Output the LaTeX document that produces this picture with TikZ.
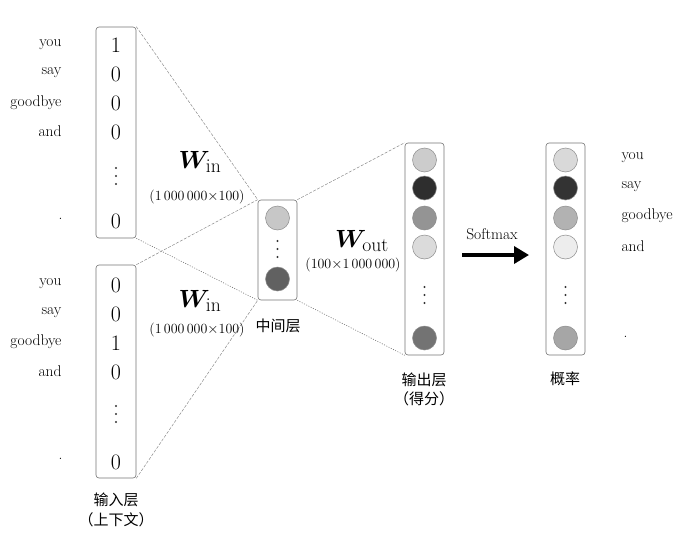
\documentclass[tikz,border=0pt]{standalone}
\usepackage{fontspec}
\usepackage{amsmath,bm}
\newfontfamily\cjk{Noto Sans CJK SC}
\usetikzlibrary{arrows.meta}
\begin{document}
\begin{tikzpicture}[x=1pt,y=-1pt,
  col/.style={draw=black!55,line width=0.6pt,rounded corners=3pt,minimum width=40pt,inner sep=0pt},
  dig/.style={font=\fontsize{22}{24}\selectfont},
  wl/.style={font=\fontsize{15.5}{17}\selectfont,anchor=east},
  wr/.style={font=\fontsize{15.5}{17}\selectfont,anchor=west},
  neur/.style={circle,draw=black!45,line width=0.5pt,minimum size=24pt,inner sep=0pt},
  vd/.style={inner sep=0pt,minimum size=0pt},
  dotc/.style={fill=black!80},
  cn/.style={font=\cjk\fontsize{15}{18}\selectfont},
  conn/.style={draw=black!45,line width=0.5pt,dash pattern=on 3pt off 1.5pt},
  connd/.style={draw=black!55,line width=0.6pt,dash pattern=on 1pt off 1.5pt},
  wbig/.style={font=\fontsize{28}{30}\selectfont},
  dims/.style={font=\fontsize{14}{16}\selectfont}
]
\useasboundingbox (0,0) rectangle (682,538);
% input boxes
\node[col,minimum height=211pt] (inA) at (116,132.5) {};
\node[col,minimum height=213pt] (inB) at (116,371.5) {};
% middle
\node[col,minimum width=39pt,minimum height=100pt] (mid) at (277.5,250) {};
% output
\node[col,minimum width=39pt,minimum height=212pt] (out) at (424.5,249) {};
\node[col,minimum width=39pt,minimum height=212pt] (prob) at (565.5,249) {};

% connectors
\draw[conn] (inA.north east) -- (mid.north west);
\draw[connd] (inA.south east) -- (mid.south west);
\draw[conn] (inB.north east) -- (mid.north west);
\draw[conn] (inB.south east) -- (mid.south west);
\draw[conn] (mid.north east) -- (out.north west);
\draw[connd] (mid.south east) -- (out.south west);

% input A digits
\node[dig] (a1) at (116,45) {1};
\node[dig] (a2) at (116,74) {0};
\node[dig] (a3) at (116,103) {0};
\node[dig] (a4) at (116,132) {0};
\node[vd] (a5) at (116,176) {};
\node[dig] (a6) at (116,221) {0};
\node[wl] (la1) at (65,45) {you};
\node[wl] (la2) at (65,73) {say};
\node[wl] (la3) at (65,103) {goodbye};
\node[wl] (la4) at (65,131) {and};
\node[wl] (la5) at (66,219) {.};
% input B digits
\node[dig] (b1) at (116,285) {0};
\node[dig] (b2) at (116,314) {0};
\node[dig] (b3) at (116,343) {1};
\node[dig] (b4) at (116,372) {0};
\node[vd] (b5) at (116,414) {};
\node[dig] (b6) at (116,462) {0};
\node[wl] (lb1) at (65,284) {you};
\node[wl] (lb2) at (65,313) {say};
\node[wl] (lb3) at (65,342) {goodbye};
\node[wl] (lb4) at (65,371) {and};
\node[wl] (lb5) at (66,459) {.};
\node[cn] (inlab) at (116,500) {输入层};
\node[cn] (inlab2) at (116,520) {（上下文）};

% middle neurons
\node[neur,fill=black!22] (m1) at (277.5,218) {};
\node[vd] (m2) at (277.5,249) {};
\node[neur,fill=black!62] (m3) at (277.5,279) {};
\node[cn] (midlab) at (278,326) {中间层};

% weights labels
\node[wbig] (w1) at (200,162) {$\bm{W}_{\mathrm{in}}$};
\node[dims] (d1) at (197,197) {(1\,000\,000$\times$100)};
\node[wbig] (w2) at (200,301) {$\bm{W}_{\mathrm{in}}$};
\node[dims] (d2) at (197,330) {(1\,000\,000$\times$100)};
\node[wbig] (w3) at (362,241) {$\bm{W}_{\mathrm{out}}$};
\node[dims] (d3) at (353,265) {(100$\times$1\,000\,000)};

% output neurons
\node[neur,fill=black!20] (o1) at (424.5,160) {};
\node[neur,fill=black!82] (o2) at (424.5,188) {};
\node[neur,fill=black!42] (o3) at (424.5,218) {};
\node[neur,fill=black!14] (o4) at (424.5,247) {};
\node[vd] (o5) at (424.5,295) {};
\node[neur,fill=black!55] (o6) at (424.5,338) {};
\node[cn] (outlab) at (424,380) {输出层};
\node[cn] (outlab2) at (424,399) {（得分）};

% prob neurons
\node[neur,fill=black!15] (p1) at (565.5,160) {};
\node[neur,fill=black!80] (p2) at (565.5,188) {};
\node[neur,fill=black!30] (p3) at (565.5,218) {};
\node[neur,fill=black!7] (p4) at (565.5,247) {};
\node[vd] (p5) at (565.5,295) {};
\node[neur,fill=black!35] (p6) at (565.5,338) {};
\node[cn] (problab) at (565,379) {概率};

% vertical ellipses
\foreach \d in {a5,b5,m2,o5,p5}{
  \fill[dotc] (\d.center) circle (1.2pt);
  \fill[dotc] ([yshift=8pt]\d.center) circle (1.2pt);
  \fill[dotc] ([yshift=-8pt]\d.center) circle (1.2pt);
}

\node[wr] (r1) at (618,158) {you};
\node[wr] (r2) at (618,187) {say};
\node[wr] (r3) at (618,216) {goodbye};
\node[wr] (r4) at (618,246) {and};
\node[wr] (r5) at (620,337) {.};

% softmax arrow
\node[font=\fontsize{15.5}{17}\selectfont] (sm) at (492,234) {Softmax};
\coordinate (s0) at (462,255);
\coordinate (s1) at (529,255);
\draw[line width=3.5pt,-{Triangle[length=15pt,width=17pt]}] (s0) -- (s1);
\end{tikzpicture}
\end{document}
